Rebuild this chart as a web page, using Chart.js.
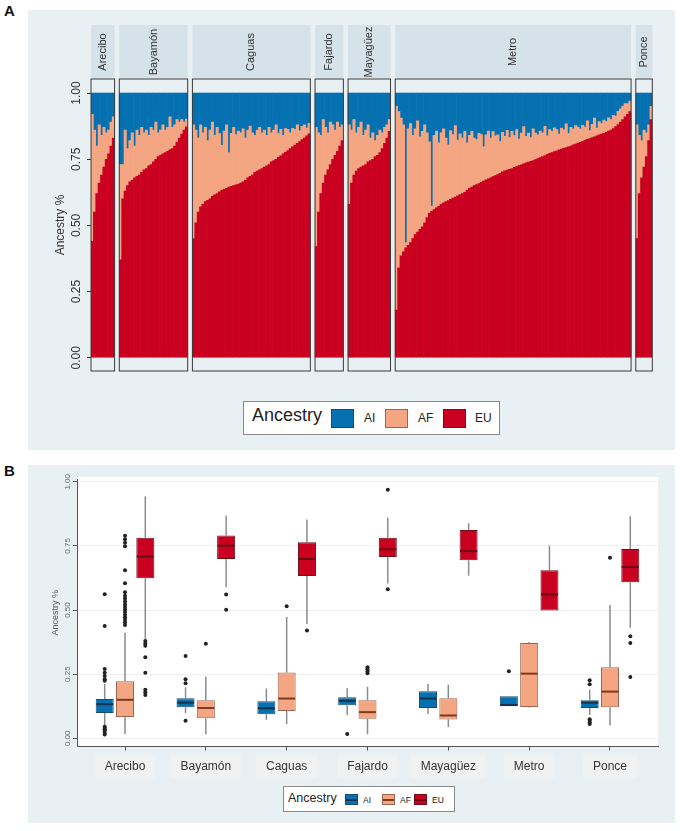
<!DOCTYPE html>
<html>
<head>
<meta charset="utf-8">
<script src="https://cdn.jsdelivr.net/npm/chart.js@4.4.1/dist/chart.umd.min.js"></script>
<style>
  body { margin: 0; background: #fff; font-family: "Liberation Sans", Arial, sans-serif; }
  #page { position: relative; width: 680px; height: 831px; overflow: hidden; }
  .panel { position: absolute; background: #e9f0f3; }
  .tag { position: absolute; font-weight: bold; font-size: 15px; color: #111; }
  .wrap { position: absolute; }
  .legend { position: absolute; background: #fff; border: 1px solid #8a8a8a; box-sizing: border-box; color: #222; }
  .legend span { position: absolute; white-space: nowrap; }
  .sw { position: absolute; box-sizing: border-box; }
  .sw i { position: absolute; left: 0; right: 0; top: 50%; height: 2px; margin-top: -1px; }
</style>
</head>
<body>
<div id="page">
  <div class="tag" style="left:4px;top:2px">A</div>
  <div class="panel" style="left:28px;top:10px;width:647px;height:440px"></div>
  <div class="wrap" style="left:28px;top:10px;width:647px;height:440px"><canvas id="chartA"></canvas></div>
  <div class="legend" style="left:243px;top:401px;width:257px;height:34px">
    <span style="left:8px;top:3px;font-size:18px">Ancestry</span>
    <div class="sw" style="left:87px;top:7px;width:23px;height:19px;background:#0571b0;border:1px solid #1c4a6e"></div>
    <span style="left:120px;top:9px;font-size:12px">AI</span>
    <div class="sw" style="left:141px;top:7px;width:23px;height:19px;background:#f4a582;border:1px solid #9b6650"></div>
    <span style="left:174px;top:9px;font-size:12px">AF</span>
    <div class="sw" style="left:199px;top:7px;width:23px;height:19px;background:#ca0020;border:1px solid #6e1018"></div>
    <span style="left:231px;top:9px;font-size:12px">EU</span>
  </div>

  <div class="tag" style="left:4px;top:462px">B</div>
  <div class="panel" style="left:28px;top:465px;width:647px;height:358px"></div>
  <div class="wrap" style="left:28px;top:465px;width:647px;height:358px"><canvas id="chartB"></canvas></div>
  <div class="legend" style="left:283px;top:786px;width:172px;height:26px">
    <span style="left:4px;top:4px;font-size:12.5px">Ancestry</span>
    <div class="sw" style="left:61px;top:7px;width:13px;height:11px;background:#0571b0;border:1px solid #1c4a6e"><i style="background:#16324d"></i></div>
    <span style="left:79px;top:8px;font-size:8.5px">AI</span>
    <div class="sw" style="left:98px;top:7px;width:13px;height:11px;background:#f4a582;border:1px solid #9b6650"><i style="background:#7e3a1e"></i></div>
    <span style="left:116px;top:8px;font-size:8.5px">AF</span>
    <div class="sw" style="left:130px;top:7px;width:13px;height:11px;background:#ca0020;border:1px solid #6e1018"><i style="background:#6b0713"></i></div>
    <span style="left:148px;top:8px;font-size:8.5px">EU</span>
  </div>
</div>

<script>
Chart.defaults.font.family = '"Liberation Sans", Arial, sans-serif'
Chart.defaults.color = '#333'

const regions = ['Arecibo', 'Bayamón', 'Caguas', 'Fajardo', 'Mayagüez', 'Metro', 'Ponce']

// Panel A: individuals sorted by EU share, per region (one bar = one sampled individual)
const euArecibo = [0.44, 0.55, 0.62, 0.66, 0.69, 0.72, 0.75, 0.77, 0.80, 0.83]
const afArecibo = [0.48, 0.31, 0.18, 0.22, 0.15, 0.15, 0.10, 0.09, 0.09, 0.08]

const euBayamon = [0.37, 0.60, 0.63, 0.65, 0.665, 0.67, 0.68, 0.685, 0.69, 0.70,
  0.71, 0.715, 0.725, 0.73, 0.74, 0.75, 0.76, 0.765, 0.77, 0.775,
  0.78, 0.785, 0.79, 0.80, 0.815, 0.83, 0.845, 0.86, 0.872]
const afBayamon = [0.36, 0.13, 0.23, 0.14, 0.155, 0.18, 0.12, 0.175, 0.15, 0.17,
  0.14, 0.145, 0.115, 0.14, 0.12, 0.14, 0.09, 0.095, 0.11, 0.085,
  0.09, 0.125, 0.08, 0.08, 0.085, 0.06, 0.055, 0.03, 0.03]

const euCaguas = [0.45, 0.51, 0.55, 0.57, 0.58, 0.59, 0.595, 0.60, 0.61, 0.615,
  0.62, 0.627, 0.632, 0.636, 0.64, 0.645, 0.648, 0.65, 0.653, 0.656,
  0.66, 0.665, 0.67, 0.68, 0.685, 0.69, 0.70, 0.705, 0.71, 0.715,
  0.72, 0.725, 0.73, 0.74, 0.745, 0.75, 0.757, 0.763, 0.77, 0.776,
  0.783, 0.79, 0.797, 0.803, 0.81, 0.817, 0.824, 0.83, 0.838, 0.846]
const afCaguas = [0.43, 0.35, 0.28, 0.31, 0.27, 0.28, 0.225, 0.26, 0.28, 0.225,
  0.25, 0.22, 0.17, 0.22, 0.24, 0.13, 0.20, 0.22, 0.19, 0.20,
  0.19, 0.20, 0.16, 0.18, 0.19, 0.16, 0.14, 0.155, 0.16, 0.135,
  0.14, 0.115, 0.14, 0.11, 0.115, 0.13, 0.09, 0.10, 0.07, 0.09,
  0.08, 0.06, 0.07, 0.06, 0.07, 0.04, 0.05, 0.05, 0.03, 0.04]

const euFajardo = [0.42, 0.55, 0.62, 0.66, 0.69, 0.71, 0.73, 0.75, 0.765, 0.78, 0.80, 0.82]
const afFajardo = [0.45, 0.30, 0.22, 0.24, 0.18, 0.14, 0.16, 0.13, 0.095, 0.11, 0.07, 0.06]

const euMayaguez = [0.58, 0.66, 0.69, 0.705, 0.715, 0.72, 0.725, 0.73, 0.74, 0.745,
  0.75, 0.76, 0.765, 0.775, 0.79, 0.81, 0.83, 0.855]
const afMayaguez = [0.30, 0.20, 0.21, 0.145, 0.155, 0.17, 0.115, 0.13, 0.14, 0.085,
  0.10, 0.06, 0.075, 0.085, 0.06, 0.06, 0.05, 0.045]

const euMetro = [0.18, 0.34, 0.385, 0.40, 0.415, 0.425, 0.435, 0.45, 0.465, 0.475,
  0.485, 0.495, 0.51, 0.53, 0.546, 0.553, 0.56, 0.566, 0.572, 0.58,
  0.585, 0.59, 0.594, 0.598, 0.603, 0.607, 0.612, 0.616, 0.62, 0.625,
  0.632, 0.64, 0.645, 0.65, 0.654, 0.658, 0.663, 0.667, 0.672, 0.676,
  0.68, 0.684, 0.688, 0.692, 0.697, 0.702, 0.706, 0.709, 0.712, 0.715,
  0.719, 0.722, 0.726, 0.729, 0.733, 0.736, 0.739, 0.742, 0.745, 0.749,
  0.752, 0.756, 0.76, 0.764, 0.768, 0.772, 0.775, 0.779, 0.782, 0.785,
  0.788, 0.791, 0.794, 0.797, 0.80, 0.804, 0.807, 0.811, 0.814, 0.818,
  0.821, 0.825, 0.828, 0.832, 0.835, 0.838, 0.842, 0.845, 0.848, 0.852,
  0.856, 0.86, 0.866, 0.873, 0.881, 0.89, 0.90, 0.91, 0.92, 0.93]
const afMetro = [0.77, 0.59, 0.52, 0.48, 0.02, 0.44, 0.45, 0.39, 0.40, 0.42,
  0.35, 0.36, 0.37, 0.32, 0.27, 0.02, 0.28, 0.29, 0.24, 0.27,
  0.28, 0.24, 0.21, 0.26, 0.24, 0.27, 0.21, 0.23, 0.21, 0.23,
  0.18, 0.20, 0.21, 0.18, 0.17, 0.19, 0.18, 0.13, 0.17, 0.18,
  0.15, 0.17, 0.15, 0.15, 0.12, 0.15, 0.13, 0.15, 0.12, 0.14,
  0.12, 0.14, 0.10, 0.12, 0.14, 0.10, 0.11, 0.09, 0.12, 0.10,
  0.09, 0.10, 0.09, 0.11, 0.07, 0.09, 0.08, 0.09, 0.08, 0.06,
  0.08, 0.07, 0.09, 0.05, 0.07, 0.06, 0.07, 0.06, 0.05, 0.06,
  0.05, 0.07, 0.03, 0.05, 0.07, 0.03, 0.05, 0.04, 0.05, 0.04,
  0.05, 0.04, 0.05, 0.04, 0.05, 0.05, 0.05, 0.05, 0.04, 0.04]

const euPonce = [0.45, 0.62, 0.68, 0.72, 0.76, 0.82, 0.90]
const afPonce = [0.43, 0.22, 0.14, 0.14, 0.09, 0.06, 0.05]

const euByRegion = [euArecibo, euBayamon, euCaguas, euFajardo, euMayaguez, euMetro, euPonce]
const afByRegion = [afArecibo, afBayamon, afCaguas, afFajardo, afMayaguez, afMetro, afPonce]

// Panel B: [lower whisker, Q1, median, Q3, upper whisker] per region
const aiStats = [
  [0.048, 0.099, 0.133, 0.153, 0.212],
  [0.098, 0.121, 0.139, 0.156, 0.199],
  [0.072, 0.094, 0.117, 0.144, 0.194],
  [0.091, 0.129, 0.146, 0.160, 0.195],
  [0.095, 0.118, 0.155, 0.183, 0.212],
  [0.125, 0.125, 0.130, 0.164, 0.164],
  [0.091, 0.118, 0.139, 0.148, 0.189]
]
const afStats = [
  [0.017, 0.083, 0.150, 0.222, 0.412],
  [0.016, 0.078, 0.118, 0.148, 0.240],
  [0.056, 0.106, 0.155, 0.257, 0.473],
  [0.016, 0.076, 0.102, 0.148, 0.201],
  [0.044, 0.073, 0.089, 0.156, 0.209],
  [0.120, 0.122, 0.252, 0.372, 0.375],
  [0.050, 0.121, 0.182, 0.277, 0.520]
]
const euStats = [
  [0.386, 0.624, 0.709, 0.782, 0.944],
  [0.589, 0.699, 0.751, 0.791, 0.869],
  [0.446, 0.633, 0.699, 0.764, 0.853],
  [0.604, 0.707, 0.737, 0.782, 0.860],
  [0.634, 0.694, 0.730, 0.812, 0.838],
  [0.498, 0.498, 0.561, 0.655, 0.751],
  [0.431, 0.608, 0.668, 0.738, 0.866]
]
const aiOutliers = [
  [0.562, 0.438, 0.270, 0.256, 0.243, 0.230, 0.224, 0.045, 0.040, 0.035, 0.030, 0.022, 0.015],
  [0.321, 0.230, 0.215, 0.068],
  [],
  [0.017],
  [],
  [0.261],
  [0.226, 0.211, 0.074, 0.068, 0.062, 0.056]
]
const afOutliers = [
  [0.790, 0.776, 0.762, 0.749, 0.655, 0.605, 0.569, 0.556, 0.545, 0.533, 0.522,
   0.512, 0.502, 0.492, 0.482, 0.472, 0.462, 0.452, 0.442],
  [0.369],
  [0.515],
  [0.277, 0.269, 0.261, 0.254],
  [],
  [],
  [0.704]
]
const euOutliers = [
  [0.379, 0.370, 0.361, 0.316, 0.256, 0.189, 0.180, 0.169],
  [0.561, 0.501],
  [0.420],
  [0.969, 0.581],
  [],
  [],
  [0.398, 0.372, 0.239]
]

const colors = {
  AI: {fill: '#0571b0', border: '#1c4a6e', median: '#16324d'},
  AF: {fill: '#f4a582', border: '#9b6650', median: '#7e3a1e'},
  EU: {fill: '#ca0020', border: '#6e1018', median: '#6b0713'}
}

// ---------- Panel A ----------
const gapSize = 2
const labelsA = []
const euData = [], afData = [], aiData = []
const facetSpans = []
euByRegion.forEach((eu, r) => {
  if (r > 0) {
    for (let g = 0; g < gapSize; g++) {
      labelsA.push('')
      euData.push(null); afData.push(null); aiData.push(null)
    }
  }
  const start = labelsA.length
  eu.forEach((v, i) => {
    const af = afByRegion[r][i]
    labelsA.push(regions[r] + ' ' + (i + 1))
    euData.push(v)
    afData.push(af)
    aiData.push(+(1 - v - af).toFixed(3))
  })
  facetSpans.push([start, labelsA.length - 1])
})

const facetPlugin = {
  id: 'facets',
  afterDatasetsDraw(chart) {
    const {ctx, chartArea, scales: {x}} = chart
    const step = x.width / chart.data.labels.length
    ctx.save()
    facetSpans.forEach(([a, b], r) => {
      const left = x.getPixelForValue(a) - step / 2
      const right = x.getPixelForValue(b) + step / 2
      ctx.fillStyle = '#d6e2ea'
      ctx.fillRect(left, chartArea.top - 54, right - left, 53)
      ctx.strokeStyle = '#3a3a3a'
      ctx.lineWidth = 1
      ctx.strokeRect(left, chartArea.top, right - left, chartArea.bottom - chartArea.top)
      ctx.save()
      ctx.translate((left + right) / 2, chartArea.top - 27)
      ctx.rotate(-Math.PI / 2)
      ctx.fillStyle = '#333'
      ctx.font = '11px "Liberation Sans", Arial, sans-serif'
      ctx.textAlign = 'center'
      ctx.textBaseline = 'middle'
      ctx.fillText(regions[r], 0, 0)
      ctx.restore()
    })
    ctx.restore()
  }
}

new Chart(document.getElementById('chartA'), {
  type: 'bar',
  data: {
    labels: labelsA,
    datasets: [
      {label: 'EU', data: euData, backgroundColor: colors.EU.fill},
      {label: 'AF', data: afData, backgroundColor: colors.AF.fill},
      {label: 'AI', data: aiData, backgroundColor: colors.AI.fill}
    ]
  },
  options: {
    responsive: true,
    maintainAspectRatio: false,
    animation: false,
    layout: {padding: {left: 0, right: 22.7, top: 69, bottom: 79}},
    datasets: {bar: {barPercentage: 1, categoryPercentage: 1, borderWidth: 0}},
    plugins: {legend: {display: false}, tooltip: {enabled: false}},
    scales: {
      x: {display: false, stacked: true},
      y: {
        stacked: true,
        min: -0.05,
        max: 1.053,
        afterFit(scale) { scale.width = 63 },
        border: {display: false},
        grid: {drawOnChartArea: false, drawTicks: true, tickLength: 4, tickColor: '#333'},
        ticks: {
          stepSize: 0.25,
          includeBounds: false,
          minRotation: 90,
          maxRotation: 90,
          crossAlign: 'center',
          padding: -1,
          color: '#333',
          font: {size: 12},
          callback: v => v.toFixed(2)
        },
        title: {
          display: true,
          text: 'Ancestry %',
          color: '#333',
          font: {size: 12},
          padding: {top: 25, bottom: 0}
        }
      }
    }
  },
  plugins: [facetPlugin]
})

// ---------- Panel B ----------
const groupShift = 0.2512

function boxDataset(label, stats) {
  return {
    type: 'bar',
    label: label,
    data: stats.map((s, i) => ({x: i, y: [s[1], s[3]]})),
    backgroundColor: colors[label].fill,
    borderColor: colors[label].border,
    borderWidth: 1,
    borderSkipped: false,
    stats: stats,
    medianColor: colors[label].median
  }
}

function outlierDataset(label, outliers, shift) {
  const pts = []
  outliers.forEach((list, i) => list.forEach(v => pts.push({x: i + shift, y: v})))
  return {
    type: 'scatter',
    label: label + ' outliers',
    data: pts,
    pointRadius: 2,
    pointBackgroundColor: '#222',
    pointBorderWidth: 0
  }
}

const boxPlugin = {
  id: 'boxes',
  beforeDraw(chart) {
    const {ctx, chartArea} = chart
    ctx.save()
    ctx.fillStyle = '#fff'
    ctx.fillRect(chartArea.left, chartArea.top - 2, chartArea.right - chartArea.left, chartArea.bottom - chartArea.top + 2)
    ctx.restore()
  },
  beforeDatasetsDraw(chart) {
    const {ctx, scales: {y}} = chart
    ctx.save()
    ctx.strokeStyle = '#8c8c8c'
    ctx.lineWidth = 1.5
    chart.data.datasets.forEach((ds, d) => {
      if (!ds.stats) return
      chart.getDatasetMeta(d).data.forEach((el, i) => {
        const s = ds.stats[i]
        ctx.beginPath()
        ctx.moveTo(el.x, y.getPixelForValue(s[0]))
        ctx.lineTo(el.x, y.getPixelForValue(s[1]))
        ctx.moveTo(el.x, y.getPixelForValue(s[3]))
        ctx.lineTo(el.x, y.getPixelForValue(s[4]))
        ctx.stroke()
      })
    })
    ctx.restore()
  },
  afterDatasetsDraw(chart) {
    const {ctx, scales: {y}} = chart
    ctx.save()
    ctx.lineWidth = 2
    chart.data.datasets.forEach((ds, d) => {
      if (!ds.stats) return
      ctx.strokeStyle = ds.medianColor
      chart.getDatasetMeta(d).data.forEach((el, i) => {
        const py = y.getPixelForValue(ds.stats[i][2])
        ctx.beginPath()
        ctx.moveTo(el.x - el.width / 2 + 0.5, py)
        ctx.lineTo(el.x + el.width / 2 - 0.5, py)
        ctx.stroke()
      })
    })
    ctx.restore()
  }
}

new Chart(document.getElementById('chartB'), {
  type: 'bar',
  data: {
    datasets: [
      boxDataset('AI', aiStats),
      boxDataset('AF', afStats),
      boxDataset('EU', euStats),
      outlierDataset('AI', aiOutliers, -groupShift),
      outlierDataset('AF', afOutliers, 0),
      outlierDataset('EU', euOutliers, groupShift)
    ]
  },
  options: {
    responsive: true,
    maintainAspectRatio: false,
    animation: false,
    layout: {padding: {left: 0, right: 17, top: 14, bottom: 36.5}},
    datasets: {bar: {barPercentage: 0.887, categoryPercentage: 0.7535}},
    plugins: {legend: {display: false}, tooltip: {enabled: false}},
    scales: {
      x: {
        type: 'linear',
        offset: false,
        min: -0.594,
        max: 6.594,
        afterFit(scale) { scale.height = 40 },
        border: {display: true, color: '#555'},
        grid: {offset: false, drawOnChartArea: false, drawTicks: true, tickLength: 4, tickColor: '#555'},
        ticks: {
          stepSize: 1,
          includeBounds: false,
          autoSkip: false,
          maxRotation: 0,
          padding: 9,
          color: '#333',
          font: {size: 12},
          showLabelBackdrop: true,
          backdropColor: '#f0f2f2',
          backdropPadding: {x: 10, y: 4},
          callback: v => regions[v] || ''
        }
      },
      y: {
        min: -0.032,
        max: 1.011,
        afterFit(scale) { scale.width = 49 },
        border: {display: true, color: '#555'},
        grid: {color: '#eeeeee', drawTicks: true, tickLength: 4, tickColor: '#555'},
        ticks: {
          stepSize: 0.25,
          includeBounds: false,
          minRotation: 90,
          maxRotation: 90,
          crossAlign: 'center',
          padding: -3,
          color: '#666',
          font: {size: 8},
          callback: v => v.toFixed(2)
        },
        title: {
          display: true,
          text: 'Ancestry %',
          color: '#555',
          font: {size: 9},
          padding: {top: 22.6, bottom: 0}
        }
      }
    }
  },
  plugins: [boxPlugin]
})
</script>
</body>
</html>
